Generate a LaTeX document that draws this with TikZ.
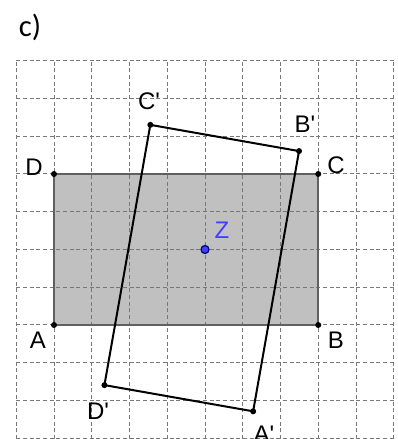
\documentclass[tikz,border=0pt]{standalone}
\usepackage{fontspec}
\usetikzlibrary{calc}
\newfontfamily\labfont{Liberation Sans}
\newfontfamily\titlefont{Carlito}
\definecolor{rectfill}{RGB}{192,192,192}
\definecolor{rectedge}{RGB}{96,96,96}
\definecolor{gridc}{RGB}{120,120,120}
\definecolor{zblue}{RGB}{64,64,255}
\definecolor{zdark}{RGB}{0,0,110}
\begin{document}
\begin{tikzpicture}[x=28.3125pt,y=28.3125pt,
  lbl/.style={font=\labfont\fontsize{18}{21}\selectfont, inner sep=0pt},
  dotpt/.style={circle, fill=black, inner sep=0pt, minimum size=4.5pt},
  gridline/.style={gridc, line width=0.75pt, dash pattern=on 3pt off 2pt},
  origedge/.style={rectedge, line width=1.5pt},
  imgedge/.style={black, line width=1.5pt},
  zpt/.style={circle, fill=zblue, draw=zdark, line width=0.9pt, inner sep=0pt, minimum size=6pt}]
\useasboundingbox (-1.4305,-3.0199) rectangle (9.0861,8.6093);
\clip (-1.4305,-3.0199) rectangle (9.0861,8.6093);
\coordinate (A) at (0,0);
\coordinate (B) at (7,0);
\coordinate (C) at (7,4);
\coordinate (D) at (0,4);
\coordinate (Z) at (4,2);
\coordinate (Ap) at ($(Z)!1!80:(A)$);
\coordinate (Bp) at ($(Z)!1!80:(B)$);
\coordinate (Cp) at ($(Z)!1!80:(C)$);
\coordinate (Dp) at ($(Z)!1!80:(D)$);
\fill[rectfill] (A) rectangle (C);
\draw[gridline, step=1] (-1,-3.2) grid (9,7);
\draw[origedge] (A) -- (B) -- (C) -- (D) -- cycle;
\draw[imgedge] (Ap) -- (Bp) -- (Cp) -- (Dp) -- cycle;
\foreach \p in {A,B,C,D,Ap,Bp,Cp,Dp} \node[dotpt] (n\p) at (\p) {};
\node[zpt] (nZ) at (Z) {};
\node[font=\titlefont\fontsize{23}{26}\selectfont, inner sep=0pt] (title) at (-0.636,7.894) {c)};
\node[lbl] (lA) at (-0.424,-0.397) {A};
\node[lbl] (lB) at (7.470,-0.397) {B};
\node[lbl] (lC) at (7.470,4.238) {C};
\node[lbl] (lD) at (-0.530,4.185) {D};
\node[lbl] (lAp) at (5.563,-2.901) {A\textquotesingle};
\node[lbl] (lBp) at (6.649,5.325) {B\textquotesingle};
\node[lbl] (lCp) at (2.517,5.934) {C\textquotesingle};
\node[lbl] (lDp) at (1.166,-2.278) {D\textquotesingle};
\node[lbl, text=zblue] (lZ) at (4.450,2.517) {Z};
\end{tikzpicture}
\end{document}
